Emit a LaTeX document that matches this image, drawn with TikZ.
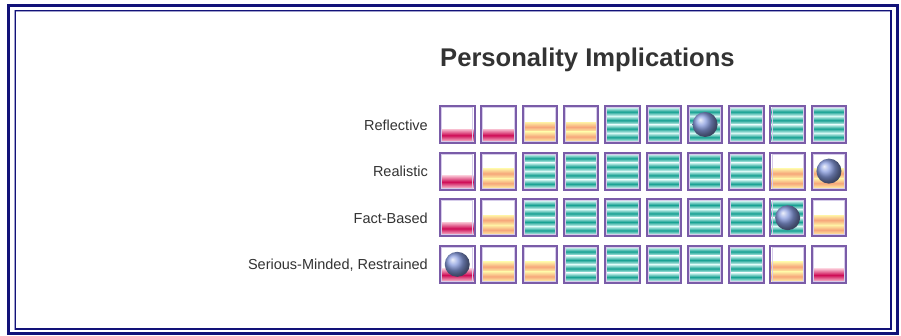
\documentclass[tikz,border=0pt]{standalone}
\usepackage{fontspec}
\setmainfont{Liberation Sans}
\usetikzlibrary{positioning}

\definecolor{frameblue}{RGB}{18,18,120}
\definecolor{framelite}{RGB}{160,160,205}
\definecolor{cellpurple}{RGB}{122,92,168}
\definecolor{celllite}{RGB}{214,204,234}
\definecolor{tealdark}{RGB}{22,160,146}
\definecolor{teallite}{RGB}{214,248,244}
\definecolor{orangedark}{RGB}{246,166,122}
\definecolor{orangelite}{RGB}{255,242,165}
\definecolor{reddark}{RGB}{206,12,86}
\definecolor{redlite}{RGB}{248,190,208}
\definecolor{ballblue}{RGB}{135,155,222}
\definecolor{labelgray}{RGB}{51,51,51}

\tikzset{
	rowlabel/.style={anchor=east, font=\fontsize{14.5}{17}\selectfont, text=labelgray, inner sep=0pt},
	charttitle/.style={anchor=base west, font=\fontsize{25.6}{29}\selectfont\bfseries, text=labelgray, inner sep=0pt},
}

% one gauge cell: #1 left, #2 top, #3 level (1 low, 2 mid, 3 high)
\newcommand{\gaugecell}[3]{%
	\begin{scope}[shift={(#1,#2)}]
		\ifcase#3\or
			\shade[top color=redlite, bottom color=redlite, middle color=reddark] (1,23) rectangle (33.5,35.5);
		\or
			\shade[top color=orangelite, bottom color=orangelite, middle color=orangedark] (1,16) rectangle (33.5,25.8);
			\shade[top color=orangelite, bottom color=orangelite, middle color=orangedark] (1,25.8) rectangle (33.5,35.5);
		\or
			\foreach \k in {0,...,3}
				\shade[top color=teallite, bottom color=teallite, middle color=tealdark] (1,{1.5+\k*8.5}) rectangle (33.5,{1.5+(\k+1)*8.5});
		\fi
		\draw[celllite, line width=1pt] (1.6,1.6) rectangle (32.9,35.4);
		\draw[cellpurple, line width=2pt] (0,0) rectangle (34.5,37);
	\end{scope}}

% the ball marking the score: #1 left, #2 top
\newcommand{\scoreball}[2]{%
	\shade[ball color=ballblue] ({#1+17.25},{#2+18.5}) circle (12.5);}

\begin{document}
\begin{tikzpicture}[x=1pt, y=-1pt]
	\useasboundingbox (0,0) rectangle (901,335);
	\fill[white] (0,0) rectangle (901,335);

	% frame
	\draw[frameblue, line width=3pt] (8.5,5.5) rectangle (897.5,333.5);
	\draw[framelite, line width=2.2pt] (15.3,10.7) rectangle (891,329);
	\draw[frameblue, line width=1.1pt] (15.3,10.7) rectangle (891,329);

	\node[charttitle] (title) at (440,66) {Personality Implications};

	% rows of cells
	\foreach \lev [count=\i from 0] in {1,1,2,2,3,3,3,3,3,3}
		\gaugecell{440+41.3*\i}{106}{\lev};
	\foreach \lev [count=\i from 0] in {1,2,3,3,3,3,3,3,2,2}
		\gaugecell{440+41.3*\i}{152.6}{\lev};
	\foreach \lev [count=\i from 0] in {1,2,3,3,3,3,3,3,3,2}
		\gaugecell{440+41.3*\i}{199.2}{\lev};
	\foreach \lev [count=\i from 0] in {1,2,2,3,3,3,3,3,2,1}
		\gaugecell{440+41.3*\i}{245.8}{\lev};

	\scoreball{440+41.3*6}{106}
	\scoreball{440+41.3*9}{152.6}
	\scoreball{440+41.3*8}{199.2}
	\scoreball{440}{245.8}

	\node[rowlabel] (reflective) at (428,125) {Reflective};
	\node[rowlabel] (realistic) at (428,171.6) {Realistic};
	\node[rowlabel] (factbased) at (428,218.2) {Fact-Based};
	\node[rowlabel] (serious) at (428,264.8) {Serious-Minded, Restrained};
\end{tikzpicture}
\end{document}
